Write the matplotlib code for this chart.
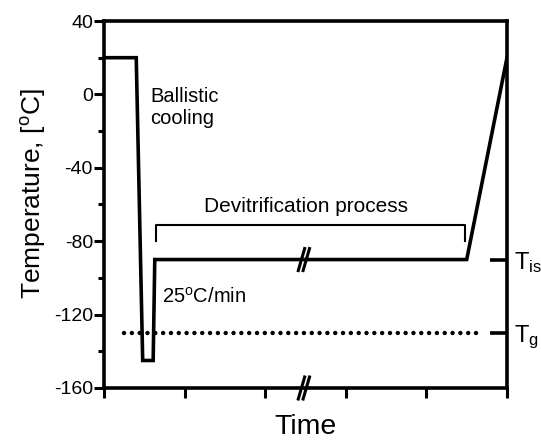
import matplotlib
matplotlib.use('Agg')
from matplotlib import pyplot as plt
from matplotlib.ticker import MultipleLocator

plt.rcParams['font.family'] = ['Liberation Sans', 'DejaVu Sans']
plt.rcParams['mathtext.default'] = 'regular'

# data (time in arbitrary units, temperature in degC)
time = [0.0, 0.40, 0.48, 0.61, 0.63, 4.50, 5.0]
temp = [20, 20, -145, -145, -90, -90, 20]
t_iso = -90
t_g = -130
dot_start = 0.25
dot_end = 4.62
bracket_x = [0.64, 4.48]
bracket_y = -71
bracket_end = -80
break_x = 2.48
yticks = [40, 0, -40, -80, -120, -160]
xticks = [0, 1, 2, 3, 4, 5]

fig = plt.figure(figsize=(5.41, 4.41), dpi=100)
ax = fig.add_axes([104 / 541, 53 / 441, 403 / 541, 367 / 441])

ax.plot(time, temp, color='black', lw=2.6, solid_joinstyle='miter', zorder=3)
ax.plot([dot_start, dot_end], [t_g, t_g], color='black', lw=3.2,
        linestyle=(0, (0.01, 1.75)), dash_capstyle='round')

# bracket
ax.plot([bracket_x[0], bracket_x[0], bracket_x[1], bracket_x[1]],
        [bracket_end, bracket_y, bracket_y, bracket_end], color='black', lw=1.5)

# break marks on the line and on the axis
for yb, clip in [(t_iso, True), (-160, False)]:
    for off in [-0.03, 0.03]:
        ax.plot([break_x + off - 0.045, break_x + off + 0.045],
                [yb - 6.8, yb + 6.8], color='black', lw=2.2,
                solid_capstyle='butt', clip_on=clip, zorder=4)

ax.text(0.57, 4, 'Ballistic\ncooling', fontsize=14.5, va='top', ha='left')
ax.text(0.72, -113.7, '25$^{o}$C/min', fontsize=14.5, va='baseline', ha='left')
ax.text(2.51, -64, 'Devitrification process', fontsize=15, va='baseline', ha='center')

ax.set_xlim(0, 5)
ax.set_ylim(-160, 40)
ax.set_xticks(xticks)
ax.set_xticklabels([])
ax.set_yticks(yticks)
ax.set_yticklabels([str(v) for v in yticks])
ax.yaxis.set_minor_locator(MultipleLocator(20))
ax.tick_params(axis='both', which='major', direction='out', length=7, width=2.2,
               labelsize=14, pad=1)
ax.tick_params(axis='y', which='minor', direction='out', length=4, width=2.2)
for s in ax.spines.values():
    s.set_linewidth(2.6)

ax.set_ylabel('Temperature, [$^{o}$C]', fontsize=19)
ax.yaxis.set_label_coords(-0.14, 0.53)
ax.set_xlabel('Time', fontsize=20.5, labelpad=11)

ax2 = ax.twinx()
ax2.set_ylim(-160, 40)
ax2.set_yticks([t_iso, t_g])
ax2.set_yticklabels(['$T_{iso}$', '$T_{g}$'])
ax2.tick_params(axis='y', direction='in', length=12, width=2.6, labelsize=17, pad=5)
for s in ax2.spines.values():
    s.set_visible(False)

fig.savefig('out.png', dpi=100)
